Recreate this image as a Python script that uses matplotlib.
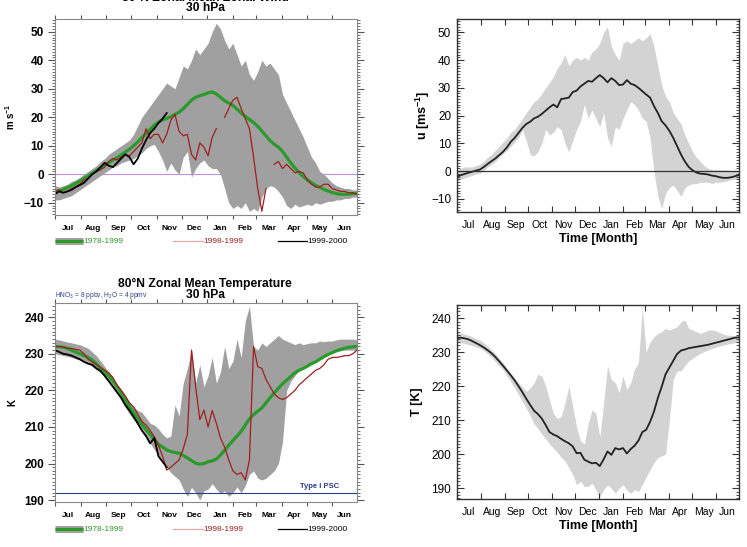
import numpy as np
import matplotlib
matplotlib.use("Agg")
import matplotlib.pyplot as plt
from matplotlib.ticker import MultipleLocator

plt.rcParams['font.family'] = ['Liberation Sans', 'DejaVu Sans']
plt.rcParams['mathtext.default'] = 'regular'

# ---- data (values every 5 days from 1 July) ----
day = np.arange(0, 366, 5)
months = ['Jul', 'Aug', 'Sep', 'Oct', 'Nov', 'Dec', 'Jan', 'Feb', 'Mar', 'Apr', 'May', 'Jun']
month_start = [0, 31, 62, 92, 123, 153, 184, 215, 243, 274, 304, 335, 365]

# 80N zonal wind, observations
wind_obs_hi = [-4, -4.5, -4, -3.5, -2.5, -2, -1, 0, 1, 2,
               3, 4.5, 5.5, 7, 8, 9, 10, 11, 12, 14,
               17, 20, 22, 24, 26, 28, 30, 32, 31, 30,
               34, 38, 37, 40, 44, 42, 44, 46, 50, 53,
               51, 47, 44, 46, 42, 38, 40, 35, 33, 36,
               40, 38, 39, 37, 35, 28, 25, 22, 19, 16,
               13, 9.5, 6, 4, 1, 0, -1.5, -3, -4, -4.5,
               -5, -5, -5.5, -5.5]
wind_obs_lo = [-9, -9, -8.5, -8, -7.5, -6.5, -5.5, -4.5, -3.5, -2.5,
               -1.5, -0.5, 0.5, 1.5, 2.5, 3, 4, 4.5, 5, 5.5,
               6.5, 7.5, 9, 10, 10.5, 8, 5, 1, 4, 1.5,
               0, 6, 8, -1, 2, 4, 5, 3, 2, 2,
               0, -5, -10, -12, -11, -12, -10, -13, -12, -13,
               -8, -5, -4, -4.5, -6, -8, -11, -12, -10.5, -11.5,
               -11, -10.5, -11, -10, -10.5, -10, -9.5, -9.5, -9, -9,
               -8.5, -8.5, -8, -8]
wind_7899 = [-6, -5.8, -5.3, -4.7, -4.0, -3.2, -2.4, -1.5, -0.6, 0.4,
             1.3, 2.3, 3.2, 4.1, 5.0, 5.9, 6.8, 7.8, 8.8, 10.0,
             11.4, 12.8, 14.3, 15.8, 17.2, 18.3, 19.1, 19.6, 20.2, 21.0,
             21.8, 23.0, 24.5, 26.0, 27.0, 27.6, 28.0, 28.6, 28.9, 28.2,
             27.0, 25.8, 25.0, 24.2, 22.8, 21.5, 20.3, 19.2, 18.2, 16.8,
             15.2, 13.5, 11.8, 10.5, 9.5, 8.0, 6.0, 4.0, 2.2, 0.6,
             -0.8, -2.0, -3.0, -3.9, -4.6, -5.3, -5.9, -6.4, -6.8, -7.0,
             -7.0, -7.0, -6.8, -6.7]
wind_9899 = [-6, -5.5, -6.5, -6, -5, -4.5, -3.5, -2, -1.5, 0,
             1, 1.5, 2.5, 4.5, 5.5, 5, 6, 7, 6.5, 8,
             9.5, 11, 16, 12.5, 14, 14, 11, 14, 19, 21,
             15, 13.5, 14, 7, 5, 11, 9.5, 6.5, 13, 16,
             np.nan, 20, 23, 26, 27, 23, 19.5, 16, 6, -5,
             -13, -5, np.nan, 3.5, 4.5, 2, 3.5, 2, 0.5, 1,
             0.5, -2, -3.5, -4.5, -4.5, -3.5, -3.5, -5, -5.5, -6,
             -6, -6.5, -6.5, -7]
wind_9900 = [-7, -6, -6.5, -6, -5.5, -4.5, -3.8, -3, -1.5, 0,
             1, 2.5, 4, 3, 2.5, 4, 5.5, 7, 6, 3.5,
             5.5, 9, 12, 14.5, 16, 18, 19.5, 21.5]

# 80N zonal wind, model
wind_mod = [-2, -1.5, -1, -0.6, -0.2, 0.2, 0.6, 1.5, 2.6, 3.6,
            4.6, 5.8, 7, 8.6, 10.6, 12, 13.8, 15.6, 17, 17.8,
            19, 19.6, 20.6, 21.8, 23, 24, 23, 26, 26.2, 26.5,
            28.5, 29, 30.5, 31.5, 32.5, 32.2, 33.5, 34.6, 33.5, 32,
            33.5, 32.5, 31, 31.2, 32.8, 31.5, 31, 30, 28.8, 27.6,
            26.5, 23.5, 21, 18, 16.5, 14.5, 12, 9, 6, 3.5,
            1.5, 0.3, -0.5, -0.9, -1, -1.2, -1.6, -1.8, -2.2, -2.4,
            -2.4, -2.2, -1.8, -1.4]
wind_mod_hi = [0.5, 1, 1.5, 1.5, 1.5, 2, 2.5, 3.5, 5, 6,
               7.5, 9, 10.5, 12, 14, 15, 17, 19, 21, 23,
               25, 26, 28, 30, 32, 34, 37, 39, 42, 38,
               40, 41, 40, 41, 40, 43, 44, 46, 50, 52,
               45, 42, 40, 46, 47, 46, 47, 48, 47, 48,
               49.5, 45, 38, 31, 27, 25, 21, 19, 17, 13,
               10, 7, 5, 3.5, 2, 1, 0.5, 0.5, 0.5, 0.5,
               0.5, 0, 0, 0]
wind_mod_lo = [-3.5, -3, -2.5, -2, -1.5, -1, -0.8, 0.2, 1.5, 2.5,
               3.5, 5, 6.4, 7.5, 9, 10.5, 12, 15, 11, 6,
               5.5, 7, 10, 15, 13, 14, 16, 15, 10, 7,
               11, 15, 18, 24, 19, 22, 19, 16, 21, 12,
               9, 16, 15, 19, 22, 25, 24, 22, 19, 18,
               12, 0, -9, -13.5, -8, -6, -5, -7, -9, -6,
               -5, -4.5, -4.5, -4, -4, -4, -4.4, -4, -4, -3.8,
               -3.5, -3, -3, -2.6]

# 80N zonal mean temperature, observations
temp_obs_hi = [234, 233.8, 233.5, 233.2, 233, 232.7, 232.5, 232, 231.5, 230.5,
               229.5, 228, 226.5, 225, 223.5, 221.5, 220, 218.5, 217, 215.5,
               214.5, 214, 212.5, 211, 210.5, 209.5, 208, 207, 207.5, 216,
               213, 222, 226, 231, 222, 227, 221, 224, 229, 222,
               225, 232, 226, 228, 234, 229, 239, 243, 232, 231,
               233, 232, 233, 234, 235, 234, 233.5, 233, 232.5, 233,
               232.5, 232.8, 233, 233, 233.5, 233.3, 233.5, 233.5, 233.8, 234,
               234, 234, 234, 233.8]
temp_obs_lo = [230, 229.8, 229.5, 229.3, 229, 228.6, 228.3, 227.8, 227.2, 226.5,
               225.7, 224.8, 223.6, 222.3, 220.6, 219, 217.2, 215.3, 213.5, 212,
               210.5, 208.8, 207.2, 205.5, 203.8, 202.3, 200.8, 199, 197.5, 196.5,
               195.5, 193, 191, 193.5, 192, 190, 192.5, 193, 194.5, 193,
               191.8, 192.5, 191, 192, 193.6, 192, 194, 197, 198, 196,
               195.5, 196, 197, 198, 200, 206, 220, 222.5, 224, 225.5,
               226.2, 226.8, 227.5, 228.3, 229, 229.5, 230, 230.5, 230.7, 230.8,
               231, 231, 231, 231]
temp_7899 = [232, 231.9, 231.8, 231.5, 231, 230.5, 230, 229.5, 229, 228.3,
             227.3, 226, 225, 224, 222.5, 221, 219.5, 217.5, 215.5, 214,
             212.3, 210.7, 209.3, 208, 206.5, 205.3, 204.5, 203.7, 203.3, 203,
             202.8, 202.2, 201.5, 200.8, 200.1, 199.8, 200, 200.5, 200.7, 201.2,
             202.3, 203.6, 205, 206.3, 207.5, 208.8, 210.5, 212.2, 213.4, 214.3,
             215.2, 216.6, 218, 219.3, 220.6, 221.8, 222.8, 223.8, 224.8, 225.5,
             226, 226.6, 227.3, 227.8, 228.5, 229.2, 229.8, 230.3, 230.8, 231.2,
             231.5, 231.8, 231.9, 232]
temp_9899 = [232, 232, 231.8, 231.5, 231.5, 231.2, 231, 230, 228.5, 227.8,
             227, 226.3, 225.5, 224.8, 223.5, 221.5, 220, 218.5, 216.5, 215.5,
             213.5, 211.5, 210.5, 209, 207.3, 205, 202, 198.2, 199, 200,
             201, 204, 208, 231, 221, 212, 214.6, 210, 214.5, 211,
             207, 204.5, 201, 198, 197, 197.5, 195.5, 201, 232, 226.5,
             226, 223, 221, 219, 218, 217.5, 218, 219, 220, 221.5,
             222.5, 223.5, 224.5, 225.5, 226, 227, 228.5, 229, 229, 229.2,
             229.5, 229.5, 230, 231]
temp_9900 = [231, 230.5, 230, 229.8, 229.5, 229, 228.5, 227.8, 227.3, 227,
             226, 225.3, 224, 222.5, 221, 219.5, 218, 216, 214.5, 212.8,
             211, 209, 207.5, 205.5, 207, 202, 200.5, 199]

# 80N zonal mean temperature, model
temp_mod = [234.2, 234.3, 234.1, 233.8, 233.3, 232.7, 232.1, 231.4, 230.6, 229.7,
            228.6, 227.3, 226, 224.6, 223.2, 221.7, 220, 218.2, 216.3, 214.5,
            212.8, 211.8, 210.5, 208.6, 206.5, 205.8, 205.3, 204.5, 203.8, 203.2,
            202.3, 200.3, 200.4, 198.4, 197.8, 197.3, 197.5, 196.5, 198.5, 200.8,
            199.8, 201.8, 201.4, 201.8, 200.2, 201.5, 202.5, 204, 206.5, 207.2,
            209.5, 212.5, 216.5, 219.8, 223.5, 225.5, 227.5, 229.5, 230.5, 230.8,
            231.2, 231.4, 231.6, 231.8, 232, 232.2, 232.5, 232.8, 233.1, 233.4,
            233.7, 234, 234.3, 234.4]
temp_mod_hi = [235.8, 235.6, 235.3, 235, 234.6, 234, 233.6, 232.8, 231.8, 230.7,
               229.5, 228.2, 226.8, 225.3, 223.8, 222.3, 221, 219.8, 218.5, 219.5,
               221, 223.5, 223, 220, 216, 212, 210.5, 211, 215, 220,
               214, 208, 204, 203, 209, 213, 212, 205, 215, 226,
               222, 221, 218, 223, 219, 221, 225, 227, 243, 230,
               233, 234.5, 235.5, 236, 237, 236.5, 237, 237.5, 239, 239.5,
               237, 236.5, 236, 235.5, 236, 236.5, 236.6, 236.3, 235.8, 235.3,
               235, 235, 234.8, 234.6]
temp_mod_lo = [233, 232.8, 232.6, 232.3, 232, 231.6, 231.2, 230.5, 229.5, 228.5,
               227.3, 226, 224.8, 223, 221.3, 219.5, 217.5, 215.5, 213.5, 211.3,
               209, 207.5, 206, 204.5, 203, 201.8, 200.5, 199.2, 198, 196,
               194, 191, 192, 190.5, 190.5, 191.5, 189.5, 187.5, 189.5, 191,
               190, 188.5, 190, 191, 189.5, 188.5, 189.5, 189, 191, 193.4,
               195.5, 197.5, 199, 199.5, 200, 210, 222, 224.5, 224.5, 226,
               227.5, 228.2, 229, 229.7, 230.2, 230.7, 231.1, 231.5, 231.8, 232.1,
               232.4, 232.6, 232.8, 233]

psc_temp = 192

GREEN = '#2a9a2a'
RED = '#a01e1e'
NAVY = '#2b3c8c'
W, H = 747, 547


def px_axes(fig, left, top, right, bottom):
    return fig.add_axes([left / W, 1 - bottom / H, (right - left) / W, (bottom - top) / H])


def month_axis(ax, lab_size, lab_weight, pad):
    centers = [(a + b) / 2 for a, b in zip(month_start[:-1], month_start[1:])]
    ax.set_xlim(0, 365)
    ax.set_xticks(month_start[:-1])
    ax.set_xticklabels([])
    ax.set_xticks(centers, minor=True)
    ax.set_xticklabels(months, minor=True, fontsize=lab_size, fontweight=lab_weight)
    ax.tick_params(axis='x', which='minor', length=0, pad=pad)
    ax.yaxis.set_minor_locator(MultipleLocator(1))


def obs_panel(ax, lo, hi, clim, y9899, y9900, ylim, yticks, ylabel):
    ax.fill_between(day, lo, hi, color='#a0a0a0', lw=0)
    ax.plot(day, clim, color=GREEN, lw=2.3)
    ax.plot(day, y9899, color=RED, lw=0.9)
    ax.plot(day[:len(y9900)], y9900, color='black', lw=1.3)
    month_axis(ax, 6, 'bold', 7)
    ax.set_ylim(*ylim)
    ax.set_yticks(yticks)
    ax.tick_params(axis='y', labelsize=8.5)
    for t in ax.get_yticklabels():
        t.set_fontweight('bold')
    ax.tick_params(which='both', direction='out', top=True, right=True, color='#555555')
    ax.tick_params(axis='y', which='major', length=5, pad=3)
    ax.tick_params(axis='y', which='minor', length=2.5)
    ax.tick_params(axis='x', which='major', length=3)
    for s in ax.spines.values():
        s.set_color('#888888')
        s.set_linewidth(0.8)
    ax.set_ylabel(ylabel, fontsize=7, fontweight='bold')
    ax.yaxis.set_label_coords(-0.126, 0.5)

    # legend strip below the axes
    tr = ax.transAxes
    y = -0.135
    ax.plot([0, 0.093], [y, y], transform=tr, clip_on=False, color='#a0a0a0', lw=5,
            solid_capstyle='butt')
    ax.plot([0, 0.093], [y, y], transform=tr, clip_on=False, color=GREEN, lw=2.2,
            solid_capstyle='butt')
    ax.text(0.095, y, '1978-1999', transform=tr, color=GREEN, fontsize=6,
            va='center', ha='left')
    ax.plot([0.39, 0.49], [y, y], transform=tr, clip_on=False, color='#e0a8a8', lw=0.9)
    ax.text(0.49, y, '1998-1999', transform=tr, color=RED, fontsize=6,
            va='center', ha='left')
    ax.plot([0.74, 0.835], [y, y], transform=tr, clip_on=False, color='black', lw=0.9)
    ax.text(0.835, y, '1999-2000', transform=tr, color='black', fontsize=6,
            va='center', ha='left')


def model_panel(ax, lo, hi, mean, ylim, yticks, ylabel, label_x):
    ax.fill_between(day, lo, hi, color='#d3d3d3', lw=0)
    ax.plot(day, mean, color='#222222', lw=1.3)
    month_axis(ax, 7.5, 'normal', 6)
    ax.set_ylim(*ylim)
    ax.set_yticks(yticks)
    ax.set_yticklabels([str(v).replace('-', '\u2212') for v in yticks])
    ax.tick_params(axis='y', labelsize=8.5)
    ax.tick_params(which='both', direction='in', top=True, right=True, color='#333333')
    ax.tick_params(axis='y', which='major', length=5, pad=4)
    ax.tick_params(axis='y', which='minor', length=2.5)
    ax.tick_params(axis='x', which='major', length=4)
    for s in ax.spines.values():
        s.set_color('#333333')
        s.set_linewidth(1.0)
    ax.set_xlabel('Time [Month]', fontsize=9, fontweight='bold', labelpad=2)
    ax.set_ylabel(ylabel, fontsize=9, fontweight='bold')
    ax.yaxis.set_label_coords(label_x, 0.5)


fig = plt.figure(figsize=(W / 100, H / 100), dpi=100)

ax1 = px_axes(fig, 55, 19, 357, 215)
obs_panel(ax1, wind_obs_lo, wind_obs_hi, wind_7899, wind_9899, wind_9900,
          (-14.3, 54.5), [-10, 0, 10, 20, 30, 40, 50], 'm s$^{-1}$')
ax1.axhline(0, color='#c08fdf', lw=0.8, zorder=0.5)

ax2 = px_axes(fig, 456.7, 19.3, 739, 211.7)
model_panel(ax2, wind_mod_lo, wind_mod_hi, wind_mod, (-14.6, 54.7),
            [-10, 0, 10, 20, 30, 40, 50], 'u [ms$^{-1}$]', -0.088)
ax2.axhline(0, color='#333333', lw=0.9)

ax3 = px_axes(fig, 55, 303.3, 357, 502.3)
obs_panel(ax3, temp_obs_lo, temp_obs_hi, temp_7899, temp_9899, temp_9900,
          (189.4, 243.8), [190, 200, 210, 220, 230, 240], 'K')
ax3.axhline(psc_temp, color=NAVY, lw=0.8)
ax3.text(0.94, psc_temp + 0.7, 'Type I PSC', transform=ax3.get_yaxis_transform(),
         color=NAVY, fontsize=5.5, fontweight='bold', ha='right', va='bottom')
ax3.text(0.0, 1.04, 'HNO$_3$ = 8 ppbv, H$_2$O = 4 ppmv', transform=ax3.transAxes,
         color=NAVY, fontsize=4.8, ha='left', va='center')

ax4 = px_axes(fig, 456.7, 305, 739, 498.7)
model_panel(ax4, temp_mod_lo, temp_mod_hi, temp_mod, (186.9, 243.9),
            [190, 200, 210, 220, 230, 240], 'T [K]', -0.119)

# panel titles on the left column (the top one runs off the page, as in the source)
fig.text(205 / W, 1 - (-2) / H, '80\u00b0N Zonal Mean Zonal Wind', fontsize=8.7,
         fontweight='bold', ha='center', va='center')
fig.text(205 / W, 1 - 8 / H, '30 hPa', fontsize=8.7, fontweight='bold',
         ha='center', va='center')
fig.text(205 / W, 1 - 284 / H, '80\u00b0N Zonal Mean Temperature', fontsize=8.7,
         fontweight='bold', ha='center', va='center')
fig.text(205 / W, 1 - 295 / H, '30 hPa', fontsize=8.7, fontweight='bold',
         ha='center', va='center')

fig.savefig('out.png', dpi=100)
